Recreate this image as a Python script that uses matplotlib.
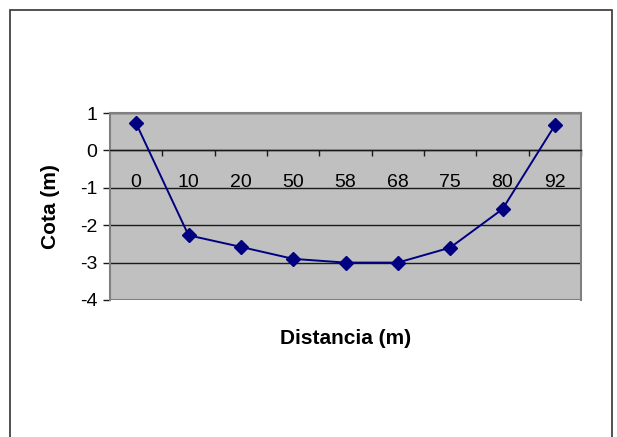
import matplotlib
matplotlib.use("Agg")
import matplotlib.pyplot as plt
from matplotlib.patches import Rectangle
import numpy as np

categories = ["0", "10", "20", "50", "58", "68", "75", "80", "92"]
cota = [0.72, -2.27, -2.58, -2.9, -3.0, -3.0, -2.6, -1.57, 0.67]
y_ticks = [-4, -3, -2, -1, 0, 1]

plt.rcParams['font.family'] = ['Liberation Sans', 'DejaVu Sans']

W, H = 617, 437
fig = plt.figure(figsize=(W / 100, H / 100), dpi=100)
fig.patch.set_facecolor("white")

# outer chart border
fig.patches.append(Rectangle((10 / W, -0.05), (612 - 10) / W, 1.05 - 10 / H,
                             transform=fig.transFigure, fill=False,
                             edgecolor="#333333", linewidth=1.2, zorder=0))

left, right, top, bottom = 110, 581, 113, 300
ax = fig.add_axes([left / W, 1 - bottom / H, (right - left) / W, (bottom - top) / H])
ax.set_facecolor("#C0C0C0")

x = np.arange(len(categories))
ax.plot(x, cota, color="#000080", linewidth=1.4, marker="D", markersize=7.5,
        markerfacecolor="#000080", markeredgecolor="#000080", zorder=5, clip_on=False)

ax.set_xlim(-0.5, len(categories) - 0.5)
ax.set_ylim(-4, 1)
ax.set_yticks(y_ticks)
ax.set_yticklabels([str(v) for v in y_ticks])
ax.yaxis.grid(True, color="#1a1a1a", linewidth=1.0)
ax.set_axisbelow(True)

for s in ["top", "right", "left"]:
    ax.spines[s].set_color("#808080")
    ax.spines[s].set_linewidth(1.5)
ax.spines["bottom"].set_position(("data", 0))
ax.spines["bottom"].set_color("#1a1a1a")
ax.spines["bottom"].set_linewidth(1.0)

ax.set_xticks(x)
ax.set_xticklabels(categories)
ax.set_xticks(np.arange(0.5, len(categories), 1.0), minor=True)
ax.tick_params(axis="x", which="major", length=0, pad=17, labelsize=14)
ax.tick_params(axis="x", which="minor", length=4, width=1, direction="out", color="#1a1a1a")
ax.tick_params(axis="y", which="major", length=5, width=1, direction="out",
               color="#1a1a1a", labelsize=14, pad=4)

# bottom (y=-4) border line of plot area
ax.axhline(-4, color="#808080", linewidth=1.5, zorder=1)

fig.text(50 / W, 1 - (top + bottom) / 2 / H, "Cota (m)", fontsize=15,
         fontweight="bold", rotation=90, ha="center", va="center")
fig.text((left + right) / 2 / W, 1 - 338 / H, "Distancia (m)", fontsize=15,
         fontweight="bold", ha="center", va="center")

fig.savefig("out.png", dpi=100)
